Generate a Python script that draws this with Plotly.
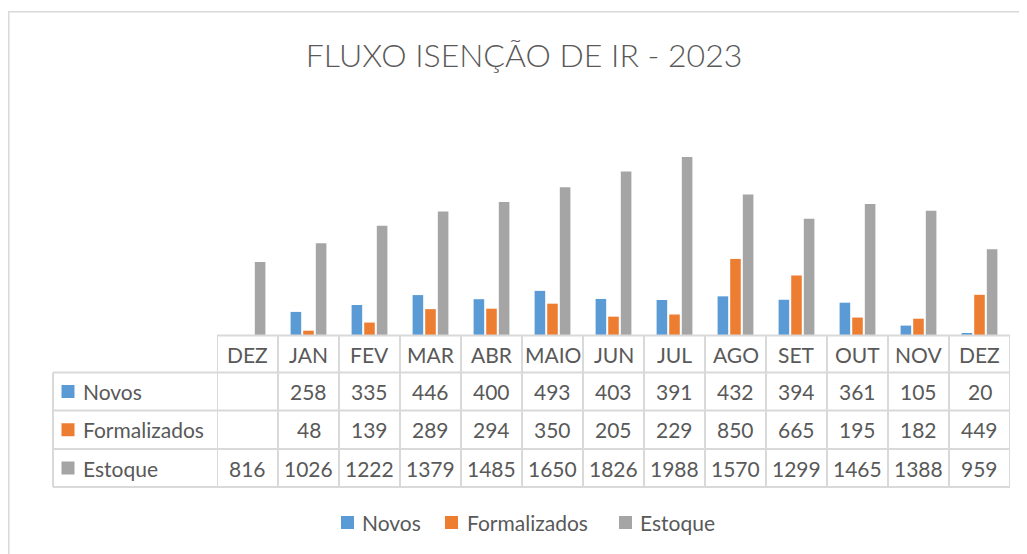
import plotly.graph_objects as go

months = ["DEZ", "JAN", "FEV", "MAR", "ABR", "MAIO", "JUN", "JUL", "AGO", "SET", "OUT", "NOV", "DEZ"]
novos = [None, 258, 335, 446, 400, 493, 403, 391, 432, 394, 361, 105, 20]
formalizados = [None, 48, 139, 289, 294, 350, 205, 229, 850, 665, 195, 182, 449]
estoque = [816, 1026, 1222, 1379, 1485, 1650, 1826, 1988, 1570, 1299, 1465, 1388, 959]
series_names = ["Novos", "Formalizados", "Estoque"]
colors = ["#5B9BD5", "#ED7D31", "#A5A5A5"]

OFF = 8  # page body margin
W, H = 1027 - OFF, 554 - OFF
# page-pixel geometry of plot area
PL, PR, PT, PB = 217, 1010, 156, 335
L, R, T, B = PL - OFF, PR - OFF, PT - OFF, PB - OFF
PH = B - T
PW = R - L
FONT = "Lato"
TXT = "#595959"
GRID = "#D9D9D9"
FS = 21

def py(p):  # page y -> paper
    return (PB - p) / PH

def px(p):  # page x -> paper
    return (p - PL) / PW

xs = list(range(len(months)))
fig = go.Figure()
for name, vals, col in zip(series_names, [novos, formalizados, estoque], colors):
    fig.add_trace(go.Bar(x=xs, y=vals, name=name, marker=dict(color=col, line=dict(width=0)),
                         showlegend=False))

shapes = []
rows = [335.5, 372.5, 410.5, 449, 487]
shapes.append(dict(type="line", xref="x", yref="paper", x0=-0.5, x1=len(months) - 0.5,
                   y0=py(rows[0]), y1=py(rows[0]), line=dict(color=GRID, width=2)))
for r in rows[1:]:
    shapes.append(dict(type="line", xref="paper", yref="paper", x0=px(53), x1=1,
                       y0=py(r), y1=py(r), line=dict(color=GRID, width=2)))
for i in range(len(months) + 1):
    shapes.append(dict(type="line", xref="x", yref="paper", x0=i - 0.5, x1=i - 0.5,
                       y0=py(rows[0]), y1=py(rows[-1]), line=dict(color=GRID, width=2)))
shapes.append(dict(type="line", xref="paper", yref="paper", x0=px(53), x1=px(53),
                   y0=py(rows[1]), y1=py(rows[-1]), line=dict(color=GRID, width=2)))
# outer chart border
shapes.append(dict(type="rect", xref="paper", yref="paper", x0=px(8.8), x1=px(1040),
                   y0=py(11.8), y1=py(570), line=dict(color=GRID, width=1.5)))

annotations = []
hdr_y = (rows[0] + rows[1]) / 2
for i, m in enumerate(months):
    annotations.append(dict(x=i, y=py(hdr_y), xref="x", yref="paper", text=m, showarrow=False,
                            font=dict(family=FONT, size=FS, color=TXT), xanchor="center", yanchor="middle"))
for k, (name, vals, col) in enumerate(zip(series_names, [novos, formalizados, estoque], colors)):
    cy = (rows[k + 1] + rows[k + 2]) / 2
    shapes.append(dict(type="rect", xref="paper", yref="paper", x0=px(61.5), x1=px(74.5),
                       y0=py(cy - 6.5), y1=py(cy + 6.5), fillcolor=col, line=dict(width=0)))
    annotations.append(dict(x=px(81), y=py(cy), xref="paper", yref="paper", text=name, showarrow=False,
                            font=dict(family=FONT, size=FS, color=TXT), xanchor="left", yanchor="middle"))
    for i, v in enumerate(vals):
        if v is None:
            continue
        annotations.append(dict(x=i, y=py(cy), xref="x", yref="paper", text=str(v), showarrow=False,
                                font=dict(family=FONT, size=FS, color=TXT), xanchor="center", yanchor="middle"))

# bottom legend
leg_sq = [341, 445, 619]
leg_tx = [360, 465, 638]
leg_y = 522.5
for name, col, sx, tx in zip(series_names, colors, leg_sq, leg_tx):
    shapes.append(dict(type="rect", xref="paper", yref="paper", x0=px(sx), x1=px(sx + 13),
                       y0=py(leg_y - 6.5), y1=py(leg_y + 6.5), fillcolor=col, line=dict(width=0)))
    annotations.append(dict(x=px(tx), y=py(leg_y), xref="paper", yref="paper", text=name, showarrow=False,
                            font=dict(family=FONT, size=FS, color=TXT), xanchor="left", yanchor="middle"))

fig.update_layout(
    width=W, height=H,
    margin=dict(l=L, r=W - R, t=T, b=H - B),
    paper_bgcolor="white", plot_bgcolor="white",
    barmode="group", bargap=0.38, bargroupgap=0.16,
    title=dict(text="FLUXO ISENÇÃO DE IR - 2023", x=(524 - OFF) / W, xanchor="center",
               y=1 - (56 - OFF) / H, yanchor="middle",
               font=dict(family=FONT, size=32, color=TXT, weight=300)),
    xaxis=dict(range=[-0.5, len(months) - 0.5], showticklabels=False, showgrid=False,
               zeroline=False, showline=False, ticks=""),
    yaxis=dict(range=[0, 2000], visible=False),
    showlegend=False,
    shapes=shapes,
    annotations=annotations,
)
fig.write_html("out.html")
